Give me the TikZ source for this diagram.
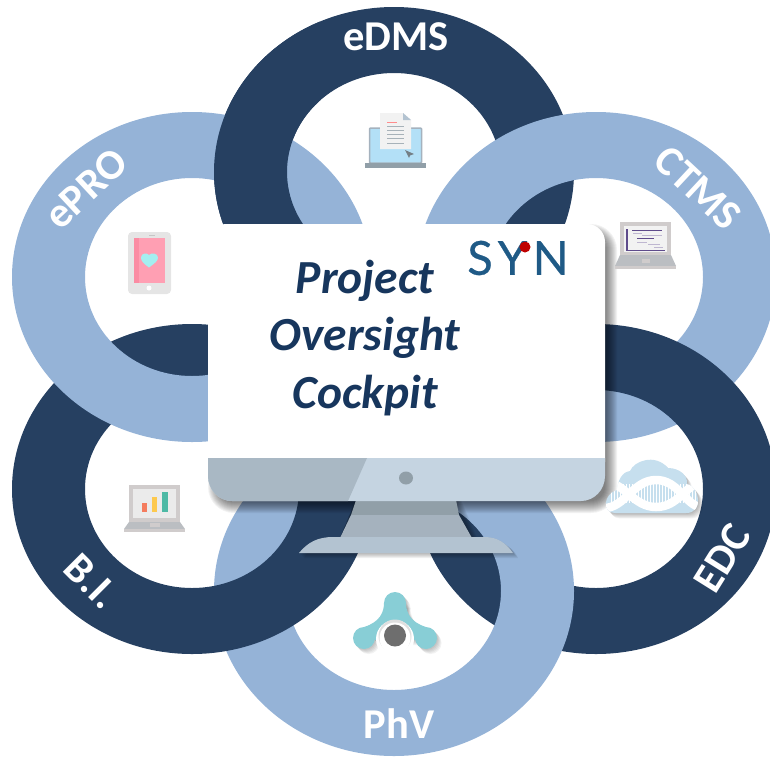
\documentclass[tikz,border=0pt]{standalone}
\usepackage{fontspec}
\setmainfont{Carlito}
\newfontfamily\logofont[LetterSpace=12,FakeBold=0.6]{Lato}
\definecolor{ringdark}{HTML}{264061}
\definecolor{ringlight}{HTML}{95B3D7}
\definecolor{titleblue}{HTML}{17365D}
\definecolor{bezelgrey}{HTML}{A9B8C4}
\definecolor{bezellight}{HTML}{C5D4E1}
\definecolor{standa}{HTML}{919FA8}
\definecolor{standb}{HTML}{A5B2BE}
\definecolor{standc}{HTML}{B3C3D1}
\definecolor{lapgrey}{HTML}{D0CCCC}
\definecolor{lapbase}{HTML}{BBBEC2}
\definecolor{gantt}{HTML}{5F4B8B}
\definecolor{teal}{HTML}{88CED6}
\definecolor{cloudblue}{HTML}{C6DFEE}
\definecolor{logoblue}{HTML}{1F5A86}
\definecolor{screenblue}{HTML}{B3E0F7}
\definecolor{phonepink}{HTML}{FF9FB3}
\definecolor{phonedeep}{HTML}{FB8CA3}
\definecolor{heartcyan}{HTML}{A4EFF0}
\definecolor{barred}{HTML}{F47C5E}
\definecolor{baryellow}{HTML}{FDC94E}
\definecolor{bargreen}{HTML}{4DB9A5}
\definecolor{coregrey}{HTML}{6E6E6E}
\newcommand{\myring}[3]{\fill[#3,even odd rule] (#1,#2) ellipse [x radius=180,y radius=165] (#1,#2) ellipse [x radius=107,y radius=99];}
\tikzset{
  ringlabel/.style={text=white,font=\bfseries\fontsize{42.5}{42.5}\selectfont,inner sep=0pt},
  cockpit/.style={text=titleblue,font=\bfseries\itshape\fontsize{47.5}{47.5}\selectfont,inner sep=0pt,anchor=base},
}
\begin{document}
\begin{tikzpicture}[x=1pt,y=-1pt]
\useasboundingbox (0,0) rectangle (770,756);
\begin{scope}
\clip (0,0) rectangle (770,756);
% interlaced rings
\myring{394}{172}{ringdark}
\myring{596}{277}{ringlight}
\myring{596}{489}{ringdark}
\myring{394}{591}{ringlight}
\myring{192}{489}{ringdark}
\myring{192}{277}{ringlight}
\begin{scope}
\clip (200,0) rectangle (320,226);
\myring{394}{172}{ringdark}
\end{scope}
\end{scope}
% monitor shadow
\foreach \d in {-6,...,6}{
  \fill[black,opacity=.05,rounded corners=(20+\d)*1pt] (214-\d,230-\d) rectangle (611+\d,507+\d);
}
% stand
\foreach \d in {0,...,5}{
  \fill[black,opacity=.06] (356,500) -- (456+\d,500) -- (472+\d,538) -- (340,538) -- cycle;
}
\fill[standa] (356,500) -- (456,500) -- (459,515) -- (351,515) -- cycle;
\fill[standb] (351,515) -- (459,515) -- (472,538) -- (340,538) -- cycle;
\foreach \d in {0,...,5}{
  \fill[black,opacity=.06] (299+\d,553+\d) .. controls (308+\d,542) and (318+\d,537+\d) .. (333,537+\d) -- (485,537+\d) .. controls (498,537+\d) and (507+\d,544) .. (513+\d,553+\d) -- cycle;
}
\fill[standc] (299,553) .. controls (308,542) and (318,537) .. (333,537) -- (485,537) .. controls (498,537) and (507,544) .. (513,553) -- cycle;
% monitor body
\fill[white,rounded corners=18pt] (208,224) rectangle (605,480);
\fill[bezellight] (208,458) -- (605,458) -- (605,476) arc[start angle=0,end angle=90,x radius=24,y radius=25] -- (232,501) arc[start angle=90,end angle=180,x radius=24,y radius=25] -- cycle;
\fill[bezelgrey] (208,458) -- (367,458) -- (348,501) -- (232,501) arc[start angle=90,end angle=180,x radius=24,y radius=25] -- cycle;
\fill[standa] (406,478) ellipse [x radius=7,y radius=6.5];
% titles
\node[cockpit] (project) at (365,293) {Project};
\node[cockpit] (oversight) at (365,350) {Oversight};
\node[cockpit] (cockpit) at (365,408) {Cockpit};
% logo
\node[text=logoblue,font=\logofont\fontsize{47}{47}\selectfont,inner sep=0pt] (syn) at (518,258) {SYN};
\fill[red!75!black] (525,247) circle (5.5);
% ring labels
\node[ringlabel] (edms) at (396,37) {eDMS};
\node[ringlabel,rotate=-43] (ctms) at (698,188) {CTMS};
\node[ringlabel,rotate=43] (epro) at (86,189) {ePRO};
\node[ringlabel,rotate=-45] (bi) at (92,581) {B.I.};
\node[ringlabel,rotate=58] (edc) at (722,558) {EDC};
\node[ringlabel] (phv) at (399,724) {PhV};
% eDMS icon
\draw[draw=standb,fill=screenblue,line width=1.5pt,rounded corners=1pt] (369.5,128) rectangle (421.5,163);
\fill[standa] (365,163) rectangle (426,168);
\fill[white!95!black] (380,113) -- (403,113) -- (411,120) -- (411,149) -- (380,149) -- cycle;
\fill[standc] (403,113) -- (411,120) -- (403,120) -- cycle;
\draw[red!45,line width=1pt] (387,122) -- (397,122);
\foreach \yy in {126,130,134,138,143}{\draw[standa!80,line width=1pt] (387,\yy) -- (404,\yy);}
\fill[standa!80!black] (405,150) -- (414,154) -- (410,155.5) -- (409,158) -- cycle;
% CTMS icon
\fill[lapgrey] (620,222) rectangle (671,255);
\fill[white!95!black] (624,226) rectangle (667,252);
\fill[lapbase] (620,255) -- (671,255) -- (676,266) -- (615,266) -- cycle;
\fill[lapgrey] (615,266) rectangle (676,269);
\fill[lapgrey] (642,259) rectangle (650,263);
\draw[gantt,line width=1.4pt] (627,229) -- (627,250.5) -- (665,250.5);
\draw[gantt,line width=1.6pt] (632,230.5) -- (662,230.5);
\draw[gantt,line width=1.6pt] (637,238.5) -- (654,238.5);
\draw[gantt!40,line width=1pt] (633,233.5) -- (642,233.5) (642,235) -- (662,235) (637,242) -- (647,242) (648,244) -- (660,244) (654,247) -- (663,247);
% ePRO icon
\fill[gray!20,rounded corners=4pt] (128,232) rectangle (171,294);
\fill[phonepink] (134,238) rectangle (165,283);
\fill[phonedeep] (134,238) rectangle (139,283);
\fill[white] (149,288) circle (2.5);
\draw[gray!45,line width=1pt] (149,235) -- (155,235);
\fill[heartcyan] (149,267.5) .. controls (143,263) and (141,261) .. (141,257.5) .. controls (141,253) and (147,252.5) .. (149,255) .. controls (151,252.5) and (158,253) .. (158,257.5) .. controls (158,261) and (155,263) .. (149,267.5) -- cycle;
% B.I. icon
\fill[lapgrey] (129,485) rectangle (180,522);
\fill[white!92!black] (133,489) rectangle (176,518);
\fill[lapbase] (129,522) -- (180,522) -- (185,529) -- (124,529) -- cycle;
\fill[lapgrey] (124,529) rectangle (185,532);
\fill[lapgrey] (150,523) rectangle (160,527);
\fill[barred] (142,503) rectangle (147,512);
\fill[baryellow] (152,497) rectangle (157,512);
\fill[bargreen] (162,492) rectangle (168,512);
% EDC icon
\def\cloudpath{(615,513) .. controls (602,513) and (603,494) .. (617,490) .. controls (618,480) and (622,472) .. (630,471) .. controls (634,461) and (655,453) .. (668,468) .. controls (680,468) and (688,476) .. (687,484) .. controls (700,487) and (704,513) .. (686,513) -- cycle}
\foreach \d in {1,...,6}{
  \fill[black,opacity=.05,shift={(\d*.8,\d*.9)}] \cloudpath;
}
\fill[cloudblue] \cloudpath;
\begin{scope}
\clip \cloudpath;
\foreach \xx in {611,614,...,698}{\draw[white,line width=1pt] (\xx,484) -- (\xx,503);}
\draw[white,line width=8.5pt] (604,482) .. controls (625,482) and (633,507) .. (656,507) .. controls (679,507) and (685,484) .. (703,482);
\draw[white,line width=8.5pt] (604,508) .. controls (625,508) and (633,480) .. (656,480) .. controls (679,480) and (685,506) .. (703,508);
\end{scope}
% PhV icon
\def\molpath{(395,603) circle (11) (364,638) circle (11) (426,638) circle (11)}
\def\molarch{(406,603) .. controls (406,612) and (410,622) .. (426,627) -- (415,640) -- (375,640) -- (364,627) .. controls (380,622) and (384,612) .. (384,603) -- cycle}
\foreach \d in {1,...,5}{
  \fill[black,opacity=.05,shift={(\d*.9,\d)}] \molpath;
  \fill[black,opacity=.05,shift={(\d*.9,\d)}] \molarch;
}
\fill[teal] \molpath;
\fill[teal] \molarch;
\fill[white] (395,639) circle (19);
\fill[gray!25] (395,636) circle (16.5);
\fill[white] (395,638) circle (15.5);
\fill[coregrey] (395,635.5) circle (11);
\end{tikzpicture}
\end{document}
